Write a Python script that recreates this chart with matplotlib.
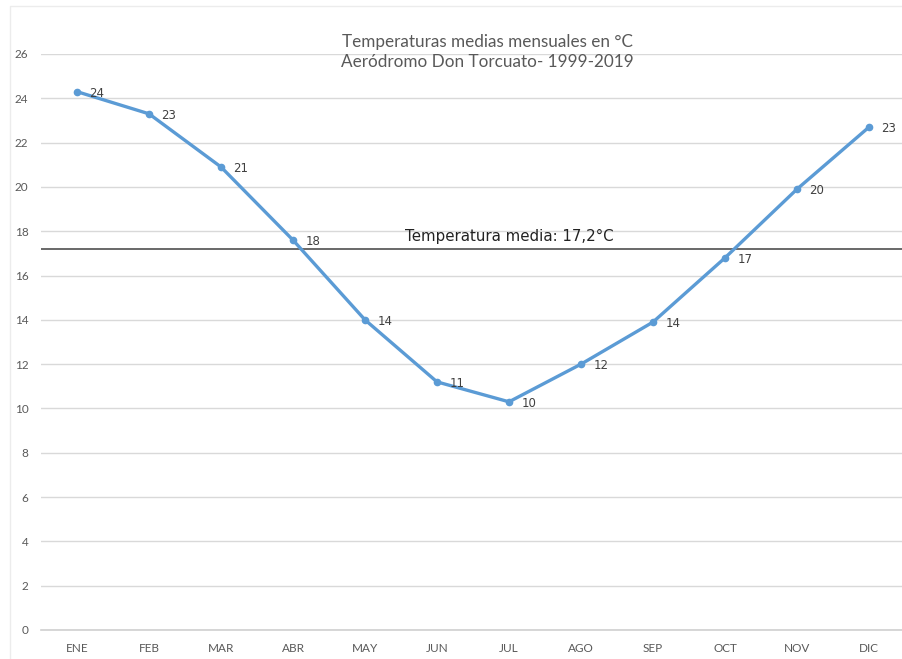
import matplotlib
matplotlib.use("Agg")
import matplotlib.pyplot as plt
from matplotlib.patches import Rectangle

# Monthly mean temperatures (°C)
months = ["ENE", "FEB", "MAR", "ABR", "MAY", "JUN",
          "JUL", "AGO", "SEP", "OCT", "NOV", "DIC"]
temps = [24.3, 23.3, 20.9, 17.6, 14.0, 11.2, 10.3, 12.0, 13.9, 16.8, 19.9, 22.7]
annual_mean = 17.2
y_ticks = list(range(0, 27, 2))

title_lines = ["Temperaturas medias mensuales en °C",
               "Aeródromo Don Torcuato- 1999-2019"]

W, H = 903, 659
fig = plt.figure(figsize=(W / 100, H / 100), dpi=100)
fig.patch.set_facecolor("white")

# faint chart-area frame
fig.patches.append(Rectangle((10 / W, -0.1), 1.2, (H - 6) / H + 0.1,
                             transform=fig.transFigure, fill=False,
                             edgecolor="#ECECEC", linewidth=1))

ax = fig.add_axes([41 / W, (H - 630) / H, 864 / W, (630 - 54) / H])
x = list(range(len(months)))

ax.set_xlim(-0.5, len(months) - 0.5)
ax.set_ylim(0, 26)
ax.set_yticks(y_ticks)
ax.set_xticks(x)
ax.set_xticklabels(months)

ax.grid(axis="y", color="#D9D9D9", linewidth=1)
ax.set_axisbelow(True)
for side in ("top", "right", "left"):
    ax.spines[side].set_visible(False)
ax.spines["bottom"].set_color("#D0D0D0")
ax.spines["bottom"].set_linewidth(1.2)
ax.tick_params(length=0, labelsize=8.5, labelcolor="#595959")
ax.tick_params(axis="x", pad=9)
ax.tick_params(axis="y", pad=9)
for lbl in ax.get_xticklabels() + ax.get_yticklabels():
    lbl.set_fontfamily("Lato")

# annual mean reference line
ax.axhline(annual_mean, color="#404040", linewidth=1.1, zorder=2)
ax.text(6.0, annual_mean + 0.22, "Temperatura media: 17,2°C",
        ha="center", va="bottom", fontsize=10.8, color="#222222",
        family="DejaVu Sans")

# monthly series
ax.plot(x, temps, color="#5B9BD5", linewidth=2.4, marker="o",
        markersize=4.5, zorder=3)
for xi, t in zip(x, temps):
    ax.annotate(f"{t:.0f}", (xi, t), xytext=(9, -1),
                textcoords="offset points", ha="left", va="center",
                fontsize=8.5, color="#404040", family="DejaVu Sans")

fig.text(487 / W, 1 - 42 / H, title_lines[0], ha="center", va="center",
         fontsize=12.3, color="#595959", family="Lato")
fig.text(487 / W, 1 - 62 / H, title_lines[1], ha="center", va="center",
         fontsize=12.3, color="#595959", family="Lato")

fig.savefig("out.png", dpi=100, facecolor="white")
